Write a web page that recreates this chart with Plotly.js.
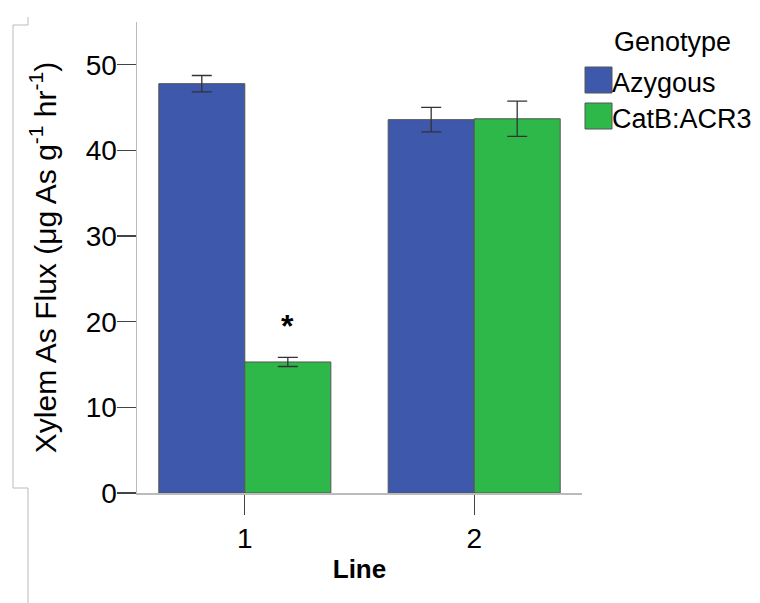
<!DOCTYPE html>
<html>
<head>
<meta charset="utf-8">
<script src="https://cdn.plot.ly/plotly-3.0.1.min.js"></script>
<style>
  html, body { margin: 0; padding: 0; background: #fff; }
  #chart { width: 760px; height: 603px; }
</style>
</head>
<body>
<div id="chart"></div>
<script>
// Xylem arsenic flux by line and genotype
const lines = [1, 2];
const lineLabels = ['1', '2'];
const genotypes = ['Azygous', 'CatB:ACR3'];
const azygousFlux = [47.8, 43.6];
const azygousErr = [0.95, 1.43];
const catbFlux = [15.3, 43.7];
const catbErr = [0.53, 2.05];
const significance = ['*', ''];
const yTicks = [0, 10, 20, 30, 40, 50];

const colors = ['#3E58AC', '#2EB84A'];
const W = 760, H = 603;
const M = { l: 137, r: 178, t: 22, b: 110 };
const PW = W - M.l - M.r, PH = H - M.t - M.b;
const px = x => (x - M.l) / PW;          // pixel -> paper x
const py = y => (H - M.b - y) / PH;      // pixel -> paper y
const FONT = 'Liberation Sans, Arial, sans-serif';

const errStyle = { type: 'data', visible: true, color: '#333', thickness: 1.3, width: 10 };

const traces = [
  {
    type: 'bar', name: genotypes[0], x: lines, y: azygousFlux,
    error_y: Object.assign({ array: azygousErr }, errStyle),
    marker: { color: colors[0], line: { color: '#555', width: 1 } },
    showlegend: false, hoverinfo: 'skip'
  },
  {
    type: 'bar', name: genotypes[1], x: lines, y: catbFlux,
    error_y: Object.assign({ array: catbErr }, errStyle),
    marker: { color: colors[1], line: { color: '#555', width: 1 } },
    showlegend: false, hoverinfo: 'skip'
  }
];

// significance markers above the CatB:ACR3 bars
const offset = 0.1875;
const annotations = [];
significance.forEach((s, i) => {
  if (!s) return;
  annotations.push({
    x: lines[i] + offset, y: catbFlux[i] + catbErr[i], xref: 'x', yref: 'y',
    text: '<b>' + s + '</b>', showarrow: false, xanchor: 'center', yanchor: 'bottom',
    yshift: 11, font: { family: FONT, size: 32, color: '#000' }
  });
});

// legend drawn as swatches with labels
annotations.push({
  x: px(672), y: py(42), xref: 'paper', yref: 'paper', text: 'Genotype',
  showarrow: false, xanchor: 'center', yanchor: 'middle',
  font: { family: FONT, size: 27, color: '#000' }
});
const shapes = [];
const swatchTop = [67, 103];
genotypes.forEach((g, i) => {
  shapes.push({
    type: 'rect', xref: 'paper', yref: 'paper',
    x0: px(585), x1: px(612), y0: py(swatchTop[i]), y1: py(swatchTop[i] + 26),
    fillcolor: colors[i], line: { color: '#555', width: 1 }
  });
  annotations.push({
    x: px(610), y: py(swatchTop[i] + 16), xref: 'paper', yref: 'paper', text: g,
    showarrow: false, xanchor: 'left', yanchor: 'middle',
    font: { family: FONT, size: 27, color: '#000' }
  });
});

// thin frame line along the left edge
const frame = `M ${px(28)},${py(17)} L ${px(28)},${py(25)} L ${px(13)},${py(25)} L ${px(13)},${py(488)} L ${px(28)},${py(488)} L ${px(28)},${py(603)}`;
shapes.push({ type: 'path', xref: 'paper', yref: 'paper', path: frame, line: { color: '#bbb', width: 1 } });

const layout = {
  width: W, height: H,
  margin: M,
  paper_bgcolor: '#fff', plot_bgcolor: '#fff',
  barmode: 'group', bargap: 0.25, bargroupgap: 0,
  showlegend: false,
  font: { family: FONT, color: '#000' },
  xaxis: {
    range: [0.53, 2.47], tickvals: lines, ticktext: lineLabels,
    ticks: 'outside', ticklen: 20, tickwidth: 1.3, tickcolor: '#444',
    showline: true, linecolor: '#bbb', linewidth: 1.5,
    showgrid: false, zeroline: false,
    tickfont: { family: FONT, size: 28, color: '#000' },
    title: { text: '<b>Line</b>', font: { family: FONT, size: 26, color: '#000' }, standoff: 6 }
  },
  yaxis: {
    range: [0, 55], tickvals: yTicks,
    ticks: 'outside', ticklen: 19, tickwidth: 1.3, tickcolor: '#444',
    ticklabelstandoff: -6,
    showline: true, linecolor: '#bbb', linewidth: 1.5,
    showgrid: false, zeroline: false,
    tickfont: { family: FONT, size: 28, color: '#000' },
    title: { text: 'Xylem As Flux (μg As g<sup>-1</sup> hr<sup>-1</sup>)', font: { family: FONT, size: 30, color: '#000' }, standoff: 20 }
  },
  annotations: annotations,
  shapes: shapes
};

Plotly.newPlot('chart', traces, layout, { staticPlot: true, displayModeBar: false });
</script>
</body>
</html>
